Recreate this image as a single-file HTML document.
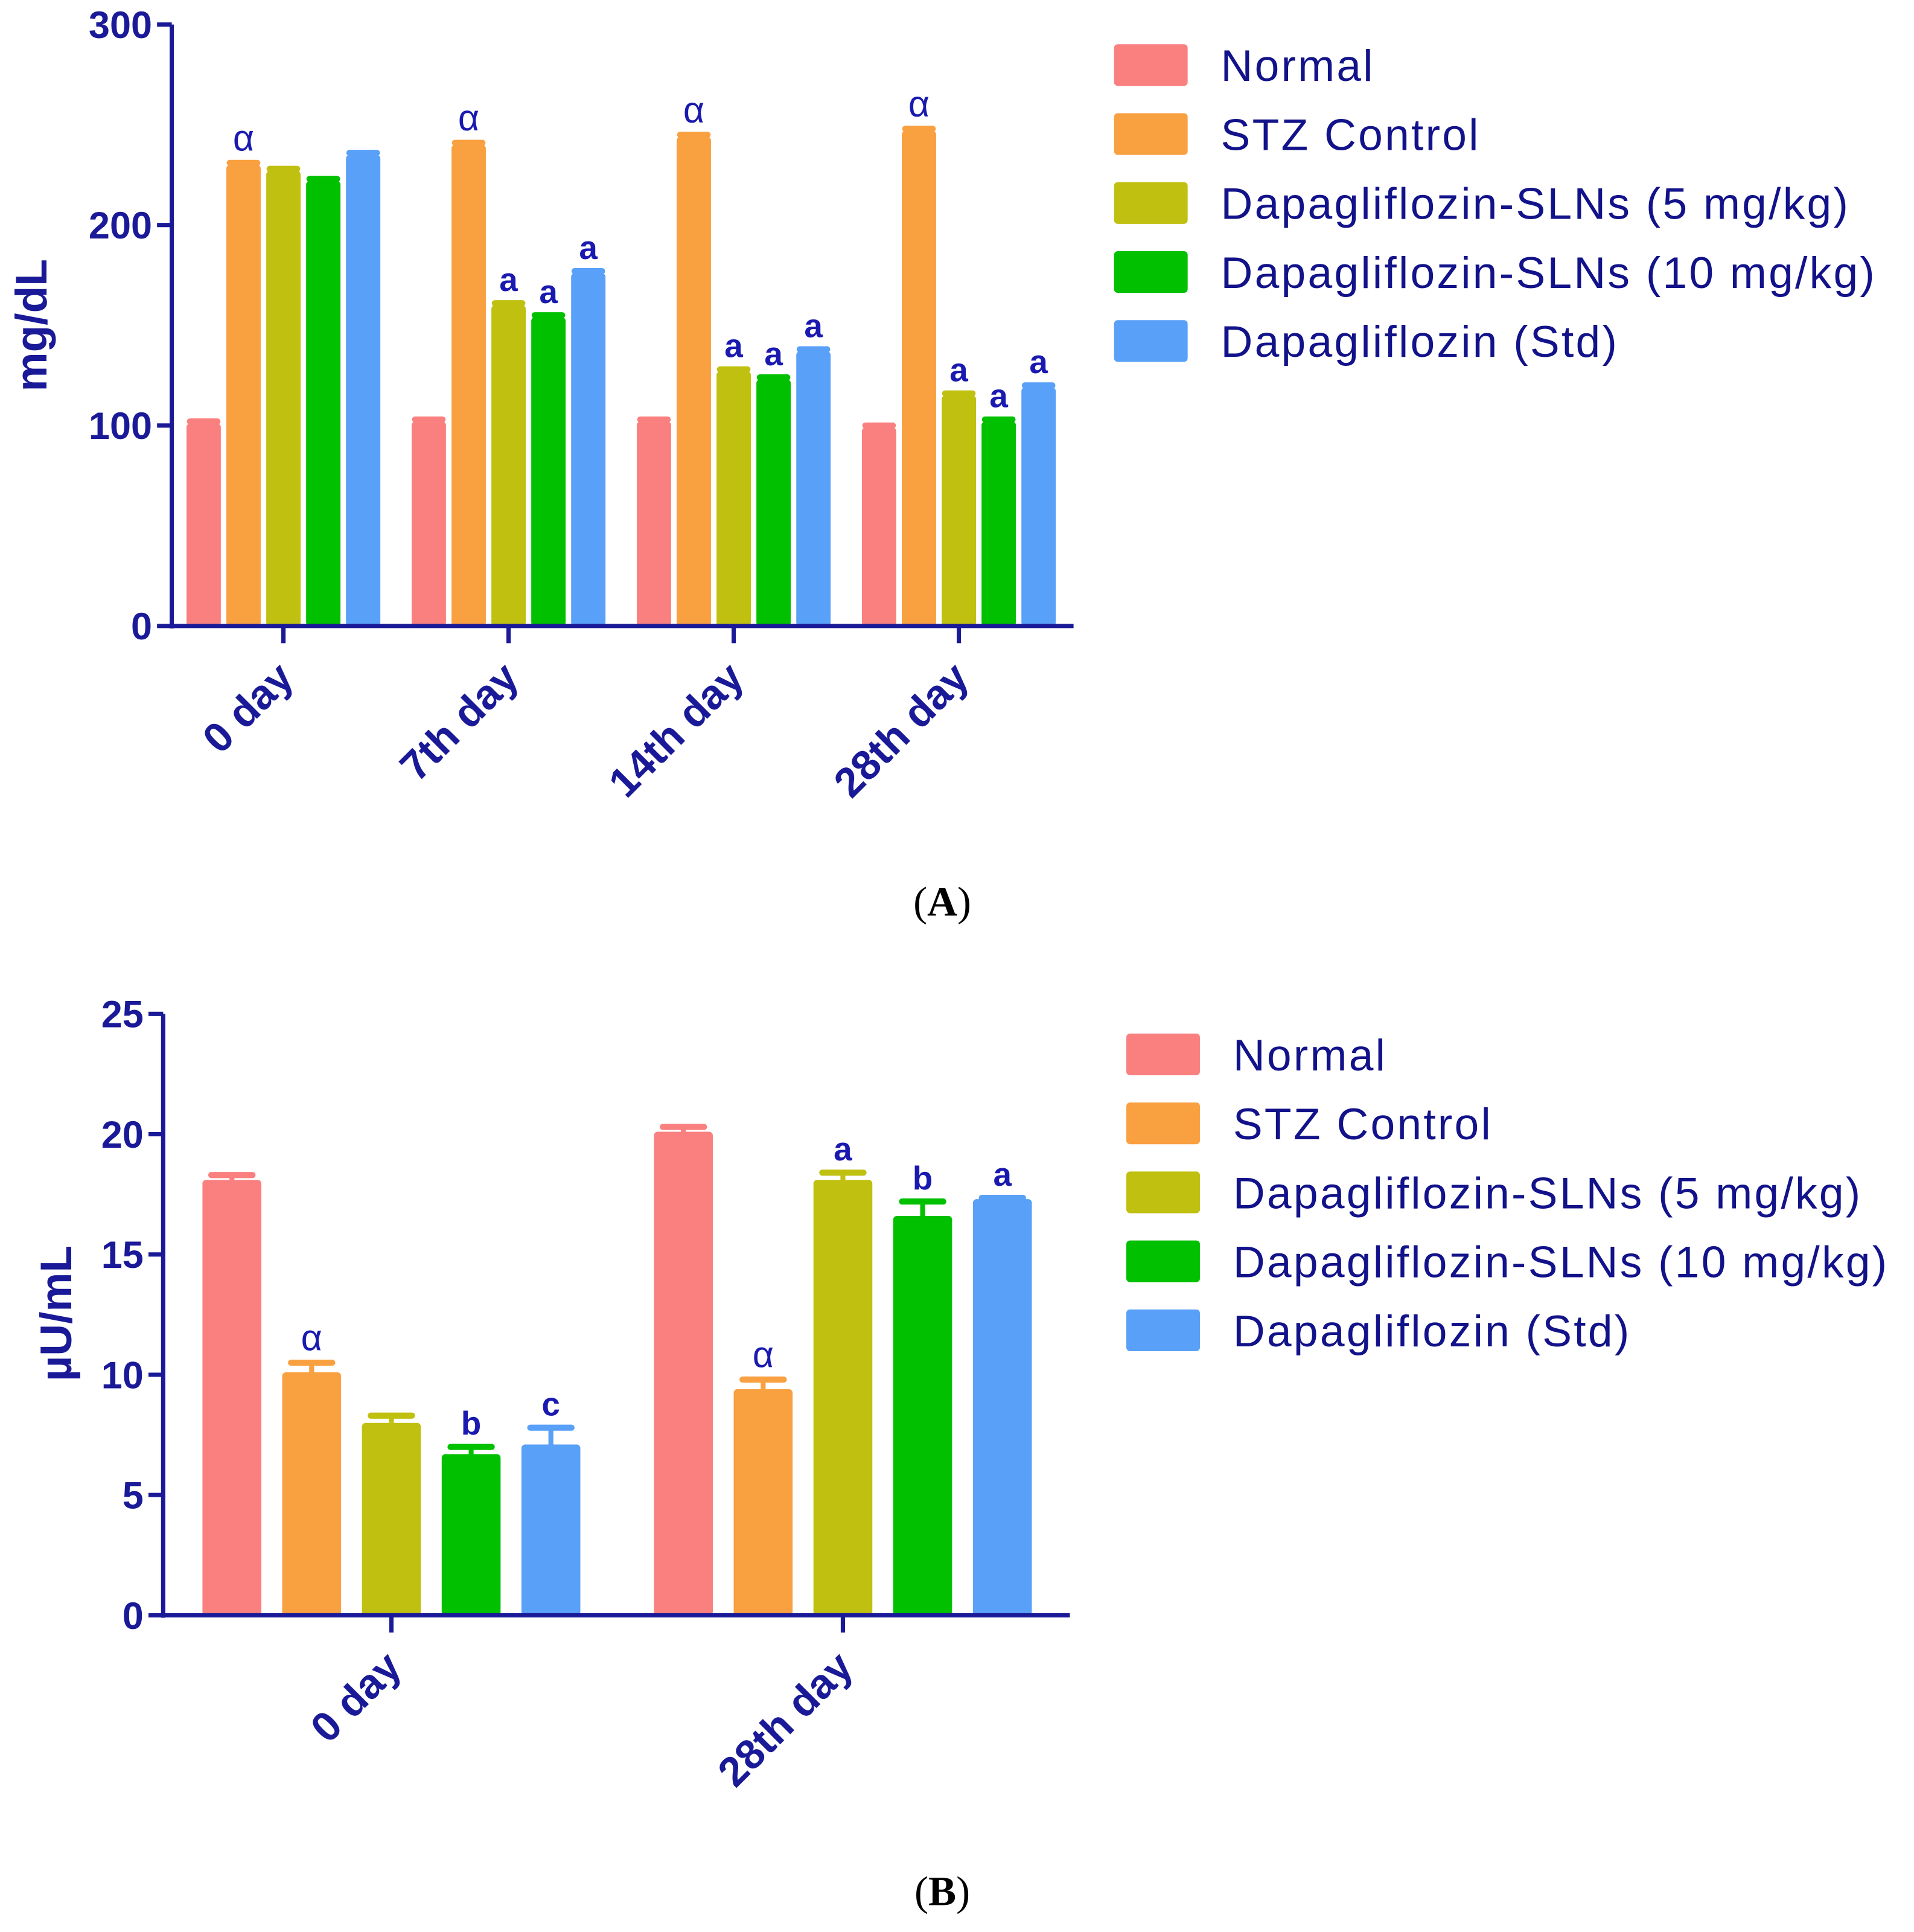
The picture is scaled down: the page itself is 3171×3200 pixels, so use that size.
<!DOCTYPE html>
<html><head><meta charset="utf-8"><style>
html,body{margin:0;padding:0;background:#fff;}
svg{display:block;}
</style></head><body>
<svg id="fig" width="3171" height="3200" viewBox="0 0 1560 1574" preserveAspectRatio="none" xmlns="http://www.w3.org/2000/svg"></svg>
<script>
const seriesNames = ["Normal","STZ Control","Dapagliflozin-SLNs (5 mg/kg)","Dapagliflozin-SLNs (10 mg/kg)","Dapagliflozin (Std)"];
const colors = ["#fa8080","#f9a040","#c0c010","#00c000","#58a0f8"];

const catsA = ["0 day","7th day","14th day","28th day"];
const valsA = [
  [101,102,102,99],
  [230,240,244,247],
  [227,160,127,115],
  [222,154,123,102],
  [235,176,137,119]
];
const errA = [
  [1,1,1,1],
  [1,1,1,1],
  [1,1,1,1],
  [1,1,1,1],
  [1,1,1,1]
];
const sigA = [
  ["","","",""],
  ["α","α","α","α"],
  ["","a","a","a"],
  ["","a","a","a"],
  ["","a","a","a"]
];
const ticksA = [0,100,200,300];

const catsB = ["0 day","28th day"];
const valsB = [
  [18.1,20.1],
  [10.1,9.4],
  [8.0,18.1],
  [6.7,16.6],
  [7.1,17.3]
];
const errB = [
  [0.2,0.2],
  [0.4,0.4],
  [0.3,0.3],
  [0.3,0.6],
  [0.7,0.05]
];
const sigB = [
  ["",""],
  ["α","α"],
  ["","a"],
  ["b","b"],
  ["c","a"]
];
const ticksB = [0,5,10,15,20,25];

const NS="http://www.w3.org/2000/svg";
const svg=document.getElementById('fig');
const NAVY="#1a1a98";
function mk(tag,attrs,parent){const e=document.createElementNS(NS,tag);for(const k in attrs)e.setAttribute(k,attrs[k]);(parent||svg).appendChild(e);return e;}

function drawChart(cfg){
  const g=mk('g',{});
  
  
  const y=v=>cfg.y0-(v-cfg.vmin)/(cfg.vmax-cfg.vmin)*(cfg.y0-cfg.yTop);
  const xc=i=>cfg.xFirst+i*cfg.catStep;
  for(let s=0;s<cfg.vals.length;s++){
    for(let c=0;c<cfg.cats.length;c++){
      const v=cfg.vals[s][c], e=cfg.err[s][c];
      const cx=xc(c)+(s-2)*cfg.barStep;
      const bar=mk('rect',{x:cx-cfg.barW/2,y:y(v),width:cfg.barW,height:cfg.y0-y(v),fill:colors[s],rx:3},g);
      
      
      const eb=mk('g',{},g);
      
      
      mk('line',{x1:cx,x2:cx,y1:y(v),y2:y(v+e),stroke:colors[s],'stroke-width':4},eb);
      mk('line',{x1:cx-cfg.barW*cfg.capF,x2:cx+cfg.barW*cfg.capF,y1:y(v+e),y2:y(v+e),stroke:colors[s],'stroke-width':5,'stroke-linecap':'round'},eb);
      const lab=cfg.sig[s][c];
      if(lab){
        const t=mk('text',{x:cx,y:y(v+e)-10,'text-anchor':'middle',fill:'#1a1ab0','font-family':'Liberation Sans, sans-serif','font-size':lab==='α'?30:27,'font-weight':lab==='α'?'normal':'bold'},g);
        t.textContent=lab;
        
        
      }
    }
  }
  const ax=mk('line',{x1:cfg.xAxis,x2:cfg.xAxis,y1:cfg.yTop,y2:cfg.y0+2,stroke:NAVY,'stroke-width':3.5},g);
  
  
  const xa=mk('line',{x1:cfg.xAxis-2,x2:cfg.xEnd,y1:cfg.y0,y2:cfg.y0,stroke:NAVY,'stroke-width':3.5},g);
  
  
  cfg.ticks.forEach(tv=>{
    mk('line',{x1:cfg.xAxis-12,x2:cfg.xAxis,y1:y(tv),y2:y(tv),stroke:NAVY,'stroke-width':3.5},g);
    const t=mk('text',{x:cfg.xAxis-16,y:y(tv)+11,'text-anchor':'end',fill:NAVY,'font-family':'Liberation Sans, sans-serif','font-size':31,'font-weight':'bold'},g);
    t.textContent=tv;
    
    
  });
  cfg.cats.forEach((cn,c)=>{
    const x=xc(c);
    mk('line',{x1:x,x2:x,y1:cfg.y0,y2:cfg.y0+14,stroke:NAVY,'stroke-width':3.5},g);
    const tx=x+10, ty=cfg.y0+44;
    const t=mk('text',{x:tx,y:ty,'text-anchor':'end',fill:NAVY,'font-family':'Liberation Sans, sans-serif','font-size':34,'font-weight':'bold',transform:'rotate(-45 '+tx+' '+ty+')'},g);
    t.textContent=cn;
    
    
  });
  const yt=mk('text',{x:cfg.titleX,y:cfg.titleY,'text-anchor':'middle',fill:NAVY,'font-family':'Liberation Sans, sans-serif','font-size':36,'font-weight':'bold',transform:'rotate(-90 '+cfg.titleX+' '+cfg.titleY+')'},g);
  yt.textContent=cfg.title;
  
  
  const lg=mk('g',{},g);
  
  
  seriesNames.forEach((n,s)=>{
    const cy=cfg.legY+s*56.2;
    const e=mk('g',{},lg);
    
    
    mk('rect',{x:cfg.legX,y:cy-17,width:60,height:34,rx:3,fill:colors[s]},e);
    const t=mk('text',{x:cfg.legX+87,y:cy+13,fill:'#12128a','font-family':'Liberation Sans, sans-serif','font-size':36,'letter-spacing':1.6},e);
    t.textContent=n;
  });
  const cap=mk('text',{x:768,y:cfg.capY,'text-anchor':'middle',fill:'#000','font-family':'Liberation Serif, serif','font-size':34},g);
  cap.innerHTML='(<tspan font-weight="bold">'+cfg.capLetter+'</tspan>)';
  
  
}

drawChart({id:'a',cats:catsA,vals:valsA,err:errA,sig:sigA,ticks:ticksA,vmin:0,vmax:300,y0:510,yTop:20,xAxis:140,xEnd:875,xFirst:231,catStep:183.5,barStep:32.5,barW:28,capF:0.4,title:'mg/dL',titleX:38,titleY:265,legX:908,legY:53,capY:746,capLetter:'A'});
drawChart({id:'b',cats:catsB,vals:valsB,err:errB,sig:sigB,ticks:ticksB,vmin:0,vmax:25,y0:1316,yTop:826,xAxis:133,xEnd:872,xFirst:319,catStep:368,barStep:65,barW:48,capF:0.35,title:'µU/mL',titleX:58,titleY:1070,legX:918,legY:859,capY:1552,capLetter:'B'});
</script>
</body></html>
